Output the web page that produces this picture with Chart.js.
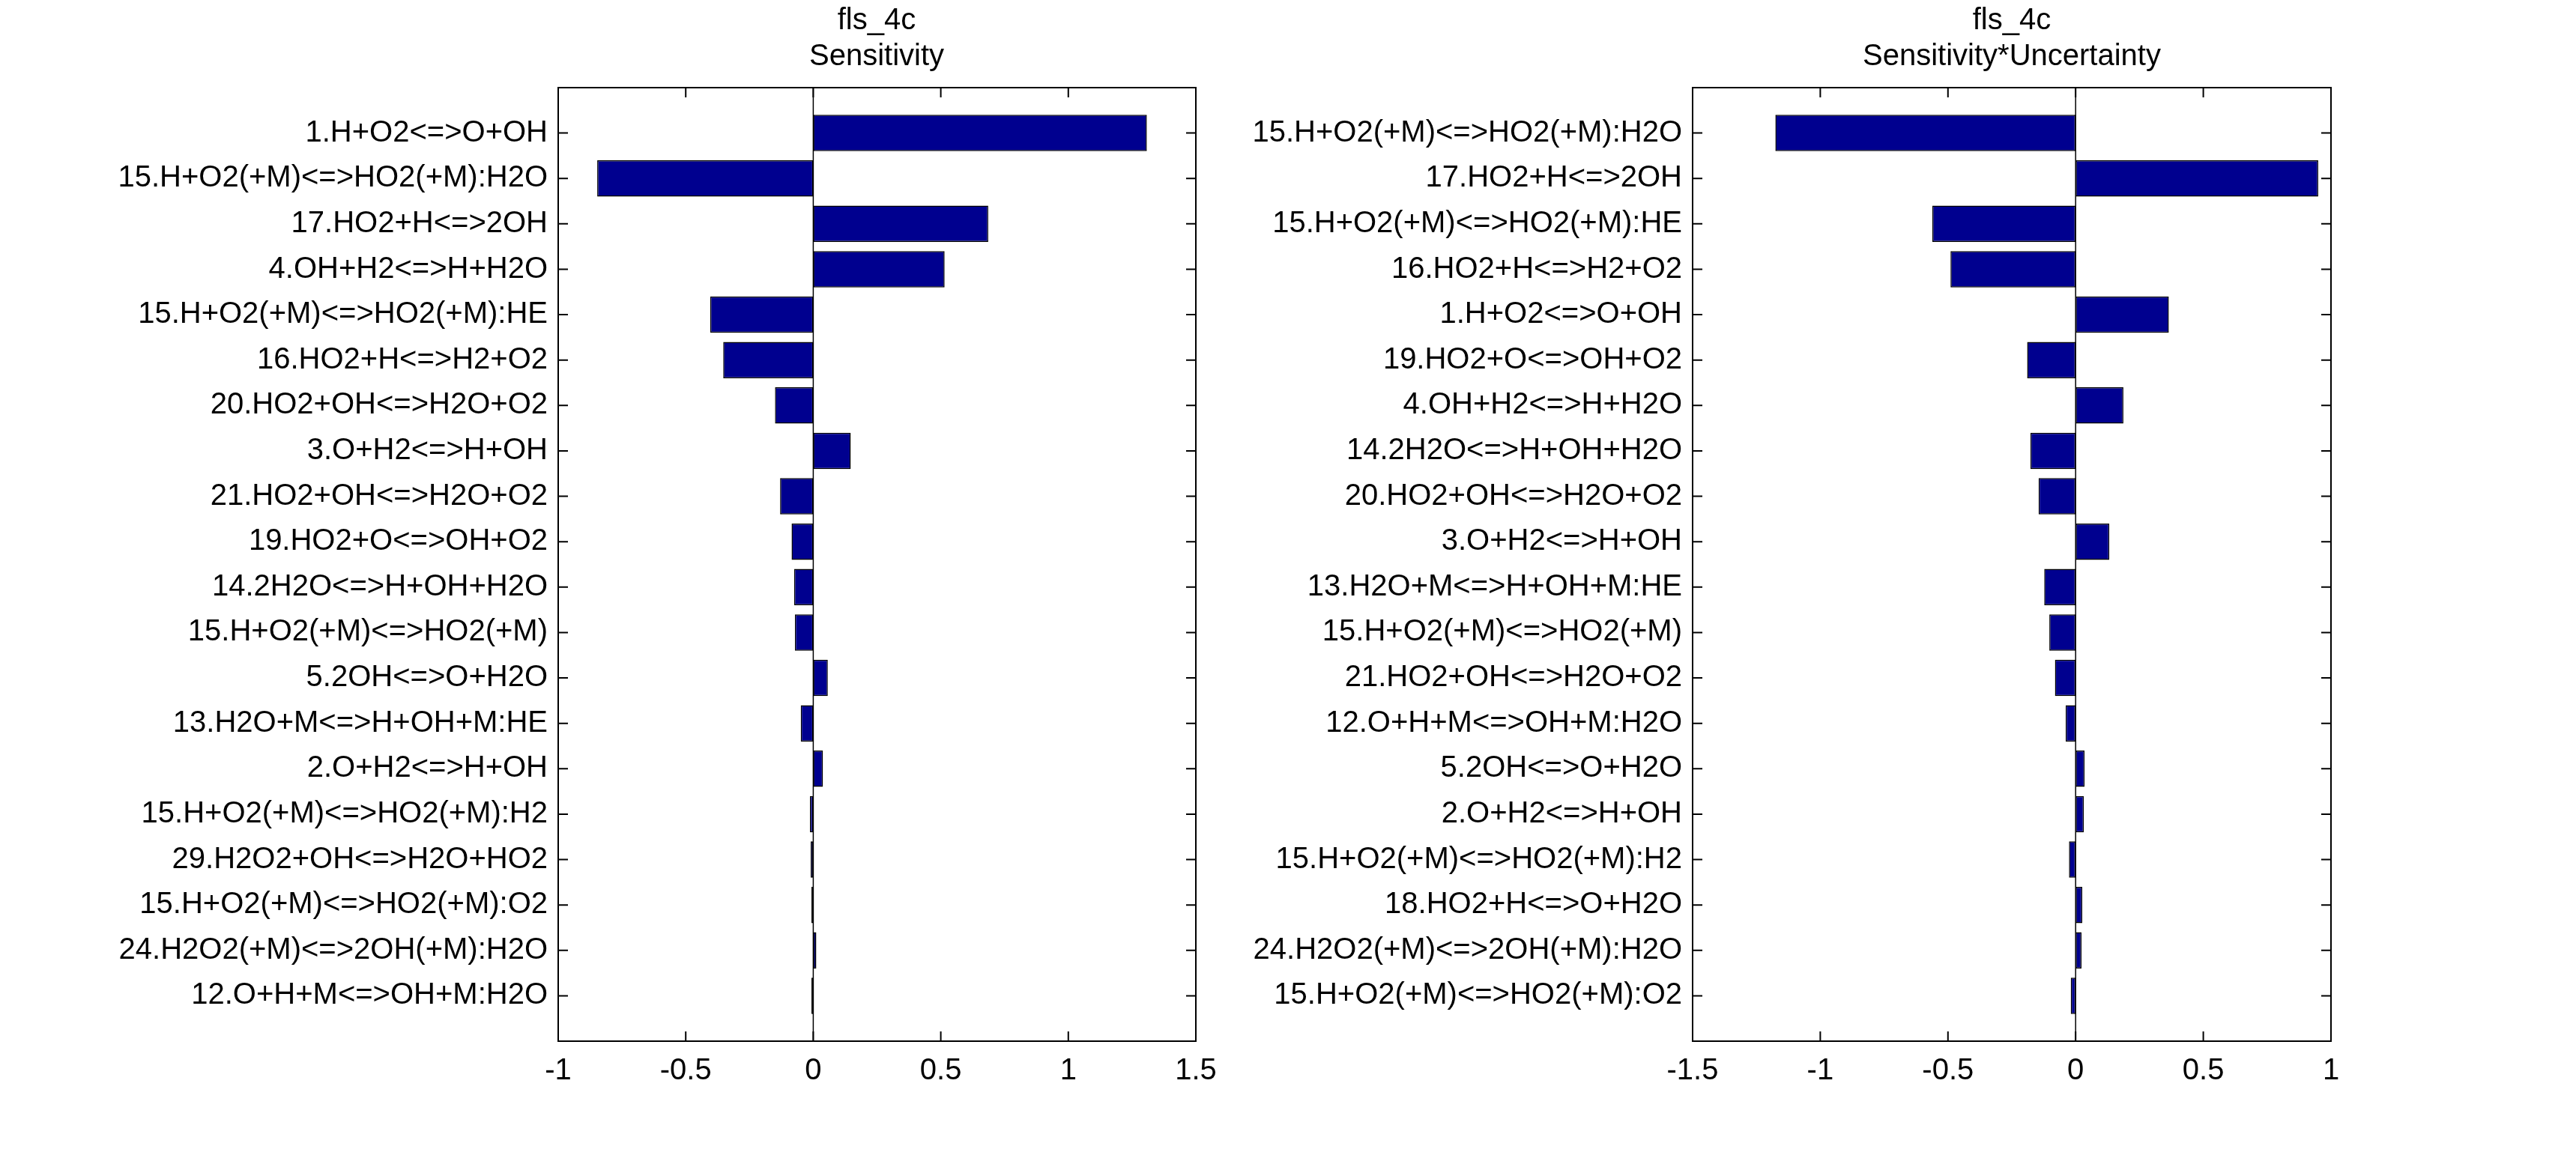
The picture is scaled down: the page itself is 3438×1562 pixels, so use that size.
<!DOCTYPE html>
<html>
<head>
<meta charset="utf-8">
<script src="https://cdn.jsdelivr.net/npm/chart.js@4"></script>
<style>
  html, body { margin: 0; padding: 0; background: #fff; overflow: hidden; width: 3438px; height: 1562px; }
  canvas { position: absolute; top: 0; }
  #cL { left: 0px; }
  #cR { left: 1600px; }
</style>
</head>
<body>
<canvas id="cL" width="2340" height="1562"></canvas>
<canvas id="cR" width="2170" height="1562"></canvas>
<script>
// ---- data ----
const titleLeft = ['fls_4c', 'Sensitivity'];
const titleRight = ['fls_4c', 'Sensitivity*Uncertainty'];

const categoriesLeft = [
  '1.H+O2<=>O+OH',
  '15.H+O2(+M)<=>HO2(+M):H2O',
  '17.HO2+H<=>2OH',
  '4.OH+H2<=>H+H2O',
  '15.H+O2(+M)<=>HO2(+M):HE',
  '16.HO2+H<=>H2+O2',
  '20.HO2+OH<=>H2O+O2',
  '3.O+H2<=>H+OH',
  '21.HO2+OH<=>H2O+O2',
  '19.HO2+O<=>OH+O2',
  '14.2H2O<=>H+OH+H2O',
  '15.H+O2(+M)<=>HO2(+M)',
  '5.2OH<=>O+H2O',
  '13.H2O+M<=>H+OH+M:HE',
  '2.O+H2<=>H+OH',
  '15.H+O2(+M)<=>HO2(+M):H2',
  '29.H2O2+OH<=>H2O+HO2',
  '15.H+O2(+M)<=>HO2(+M):O2',
  '24.H2O2(+M)<=>2OH(+M):H2O',
  '12.O+H+M<=>OH+M:H2O'
];
const valuesLeft = [
  1.308, -0.847, 0.686, 0.515, -0.404, -0.353, -0.150, 0.147, -0.130, -0.085,
  -0.075, -0.072, 0.057, -0.049, 0.038, -0.013, -0.010, -0.007, 0.012, -0.007
];

const categoriesRight = [
  '15.H+O2(+M)<=>HO2(+M):H2O',
  '17.HO2+H<=>2OH',
  '15.H+O2(+M)<=>HO2(+M):HE',
  '16.HO2+H<=>H2+O2',
  '1.H+O2<=>O+OH',
  '19.HO2+O<=>OH+O2',
  '4.OH+H2<=>H+H2O',
  '14.2H2O<=>H+OH+H2O',
  '20.HO2+OH<=>H2O+O2',
  '3.O+H2<=>H+OH',
  '13.H2O+M<=>H+OH+M:HE',
  '15.H+O2(+M)<=>HO2(+M)',
  '21.HO2+OH<=>H2O+O2',
  '12.O+H+M<=>OH+M:H2O',
  '5.2OH<=>O+H2O',
  '2.O+H2<=>H+OH',
  '15.H+O2(+M)<=>HO2(+M):H2',
  '18.HO2+H<=>O+H2O',
  '24.H2O2(+M)<=>2OH(+M):H2O',
  '15.H+O2(+M)<=>HO2(+M):O2'
];
const valuesRight = [
  -1.176, 0.950, -0.561, -0.490, 0.365, -0.190, 0.187, -0.177, -0.145, 0.132,
  -0.123, -0.103, -0.081, -0.039, 0.035, 0.032, -0.026, 0.026, 0.023, -0.019
];

const xRangeLeft = [-1, 1.5];
const xRangeRight = [-1.5, 1];
const xStep = 0.5;

// ---- style ----
Chart.defaults.font.family = "'Liberation Sans', Arial, Helvetica, sans-serif";
Chart.defaults.font.size = 40;
Chart.defaults.color = '#000';
const BAR_COLOR = '#00008F';

const frameTicks = {
  id: 'frameTicks',
  afterDatasetsDraw(chart) {
    const { ctx, chartArea: a } = chart;
    const xs = chart.scales.x, ys = chart.scales.y;
    const L = 13;
    ctx.save();
    ctx.strokeStyle = '#000';
    // baseline at zero
    ctx.lineWidth = 1.5;
    const x0 = xs.getPixelForValue(0);
    ctx.beginPath();
    ctx.moveTo(x0, a.top); ctx.lineTo(x0, a.bottom);
    ctx.stroke();
    // inward ticks
    ctx.lineWidth = 2;
    ctx.beginPath();
    xs.ticks.forEach(t => {
      const px = xs.getPixelForValue(t.value);
      ctx.moveTo(px, a.top); ctx.lineTo(px, a.top + L);
      ctx.moveTo(px, a.bottom); ctx.lineTo(px, a.bottom - L);
    });
    ys.ticks.forEach((t, i) => {
      if (!ys.getLabelForValue(t.value)) return;
      const py = ys.getPixelForTick(i);
      ctx.moveTo(a.left, py); ctx.lineTo(a.left + L, py);
      ctx.moveTo(a.right, py); ctx.lineTo(a.right - L, py);
    });
    ctx.stroke();
    ctx.strokeRect(a.left, a.top, a.right - a.left, a.bottom - a.top);
    ctx.restore();
  }
};

function makeChart(id, title, cats, vals, xr, yAxisWidth, rightWidth) {
  const labels = [''].concat(cats, ['']);
  const data = [null].concat(vals, [null]);
  return new Chart(document.getElementById(id), {
    type: 'bar',
    data: {
      labels: labels,
      datasets: [{
        data: data,
        backgroundColor: BAR_COLOR,
        borderColor: '#000',
        borderWidth: 1.5,
        borderSkipped: false,
        barPercentage: 0.8,
        categoryPercentage: 1.0
      }]
    },
    options: {
      indexAxis: 'y',
      responsive: false,
      animation: false,
      devicePixelRatio: 1,
      layout: { padding: 0 },
      plugins: {
        legend: { display: false },
        tooltip: { enabled: false },
        title: {
          display: true,
          text: title,
          color: '#000',
          font: { size: 40, weight: 'normal', lineHeight: 1.2 },
          padding: { top: 4, bottom: 17 }
        }
      },
      scales: {
        x: {
          type: 'linear',
          position: 'bottom',
          min: xr[0], max: xr[1],
          grid: { display: false, drawTicks: false },
          border: { display: false },
          ticks: {
            stepSize: xStep, padding: 16, font: { size: 40 }, color: '#000',
            callback: v => String(Math.round(v * 100) / 100)
          },
          afterFit: s => { s.height = 172; }
        },
        y: {
          type: 'category',
          position: 'left',
          offset: false,
          grid: { display: false, drawTicks: false },
          border: { display: false },
          ticks: { autoSkip: false, padding: 14, font: { size: 40 }, color: '#000' },
          afterFit: s => { s.width = yAxisWidth; }
        },
        yPad: {
          type: 'linear',
          axis: 'y',
          position: 'right',
          display: true,
          grid: { display: false, drawTicks: false },
          border: { display: false },
          ticks: { display: false },
          afterFit: s => { s.width = rightWidth; }
        }
      }
    },
    plugins: [frameTicks]
  });
}

makeChart('cL', titleLeft, categoriesLeft, valuesLeft, xRangeLeft, 745, 744);
makeChart('cR', titleRight, categoriesRight, valuesRight, xRangeRight, 659, 659);
</script>
</body>
</html>
